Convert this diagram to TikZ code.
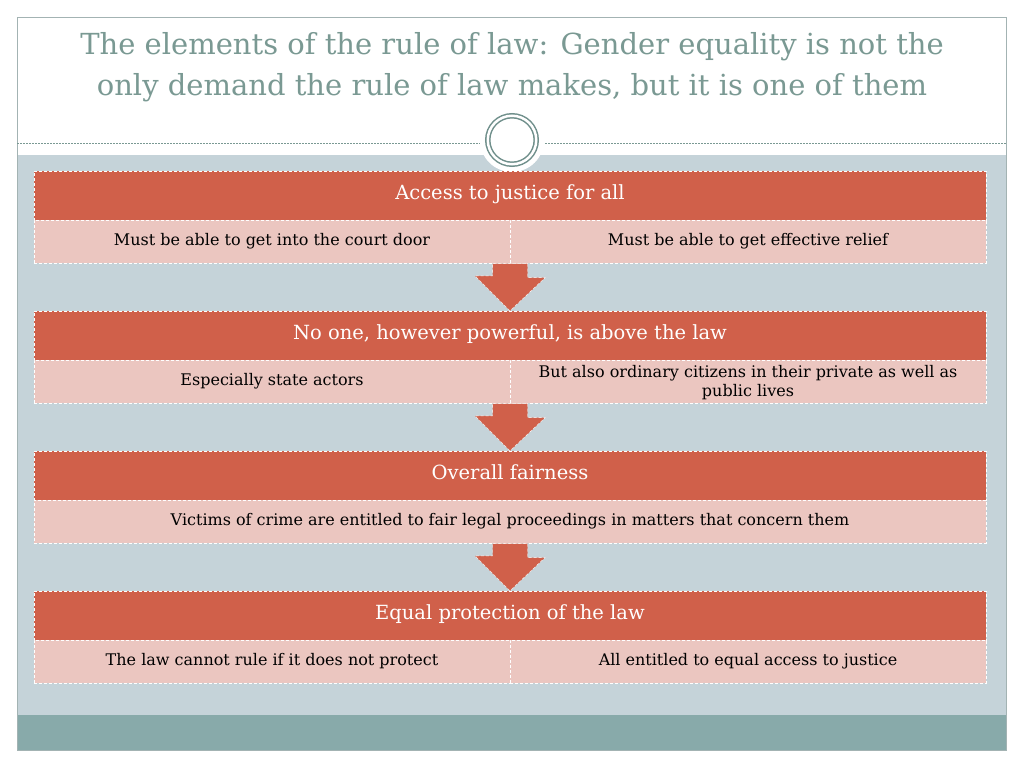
\documentclass[tikz,border=0pt]{standalone}
\usepackage{fontspec}
\setmainfont{DejaVu Serif}
\usetikzlibrary{positioning,calc}

\definecolor{framegray}{HTML}{A3B3B3}
\definecolor{titlecol}{HTML}{7A9993}
\definecolor{slateback}{HTML}{C5D3D9}
\definecolor{tealstrip}{HTML}{88AAAA}
\definecolor{barred}{HTML}{D0604A}
\definecolor{barpink}{HTML}{EBC6C0}
\definecolor{ringcol}{HTML}{6F8F8B}

\tikzset{
  headbar/.style={fill=barred, draw=white, densely dashed, line width=0.4pt,
    minimum width=952pt, minimum height=49pt, inner sep=0pt,
    text=white, font=\fontsize{19.5}{24}\selectfont,
    text height=1em, text depth=0.2em},
  subcell/.style={fill=barpink, draw=white, densely dashed, line width=0.4pt,
    minimum height=43pt, inner sep=0pt, text=black,
    font=\fontsize{16}{19}\selectfont, align=center,
    text height=0.95em, text depth=0.2em},
  halfcell/.style={subcell, minimum width=476pt},
  fullcell/.style={subcell, minimum width=952pt},
  downarrow/.style={fill=barred, draw=white, densely dashed, line width=0.4pt},
}

\begin{document}
\begin{tikzpicture}[x=1pt,y=-1pt]
	\useasboundingbox (0,0) rectangle (1024,768);
	\fill[white] (0,0) rectangle (1024,768);
	% slide background
	\fill[slateback] (17,155) rectangle (1006,715);
	\fill[tealstrip] (17,715) rectangle (1006,750);
	\draw[framegray, line width=0.8pt] (17,17) rectangle (1006,750);
	\draw[titlecol, dashed, line width=0.5pt, dash pattern=on 2pt off 1pt] (17,143) -- (1006,143);

	% title
	\node[text=titlecol, align=center, font=\fontsize{29}{41}\selectfont] (title) at (512,67)
	  {The elements of the rule of law: Gender equality is not the\\only demand the rule of law makes, but it is one of them};

	% ornament
	\node[circle, fill=white, minimum size=64pt, inner sep=0pt] (orn) at (512,140) {};
	\node[circle, draw=ringcol, line width=1.5pt, double=white, double distance=2.5pt,
	  minimum size=48.5pt, inner sep=0pt] (ring) at (orn) {};

	% rows
	\node[headbar] (h1) at (510,195.5) {Access to justice for all};
	\node[halfcell, anchor=north west] (s1a) at (h1.south west) {Must be able to get into the court door};
	\node[halfcell, anchor=north east] (s1b) at (h1.south east) {Must be able to get effective relief};

	\node[headbar] (h2) at (510,335.5) {No one, however powerful, is above the law};
	\node[halfcell, anchor=north west] (s2a) at (h2.south west) {Especially state actors};
	\node[halfcell, anchor=north east, text height=33pt, text depth=4pt] (s2b) at (h2.south east) {But also ordinary citizens in their private as well as\\public lives};

	\node[headbar] (h3) at (510,475.5) {Overall fairness};
	\node[fullcell, anchor=north] (s3) at (h3.south) {Victims of crime are entitled to fair legal proceedings in matters that concern them};

	\node[headbar] (h4) at (510,615.5) {Equal protection of the law};
	\node[halfcell, anchor=north west] (s4a) at (h4.south west) {The law cannot rule if it does not protect};
	\node[halfcell, anchor=north east] (s4b) at (h4.south east) {All entitled to equal access to justice};

	% arrows between rows
	\draw[downarrow] (s1a.south east) ++(-17.5,0) -- ++(35,0) -- ++(0,14) -- ++(17.5,0) -- (h2.north) -- ++(-35,-35) -- ++(17.5,0) -- cycle;
	\draw[downarrow] (s2a.south east) ++(-17.5,0) -- ++(35,0) -- ++(0,14) -- ++(17.5,0) -- (h3.north) -- ++(-35,-35) -- ++(17.5,0) -- cycle;
	\draw[downarrow] (s3.south) ++(-17.5,0) -- ++(35,0) -- ++(0,14) -- ++(17.5,0) -- (h4.north) -- ++(-35,-35) -- ++(17.5,0) -- cycle;
\end{tikzpicture}
\end{document}
